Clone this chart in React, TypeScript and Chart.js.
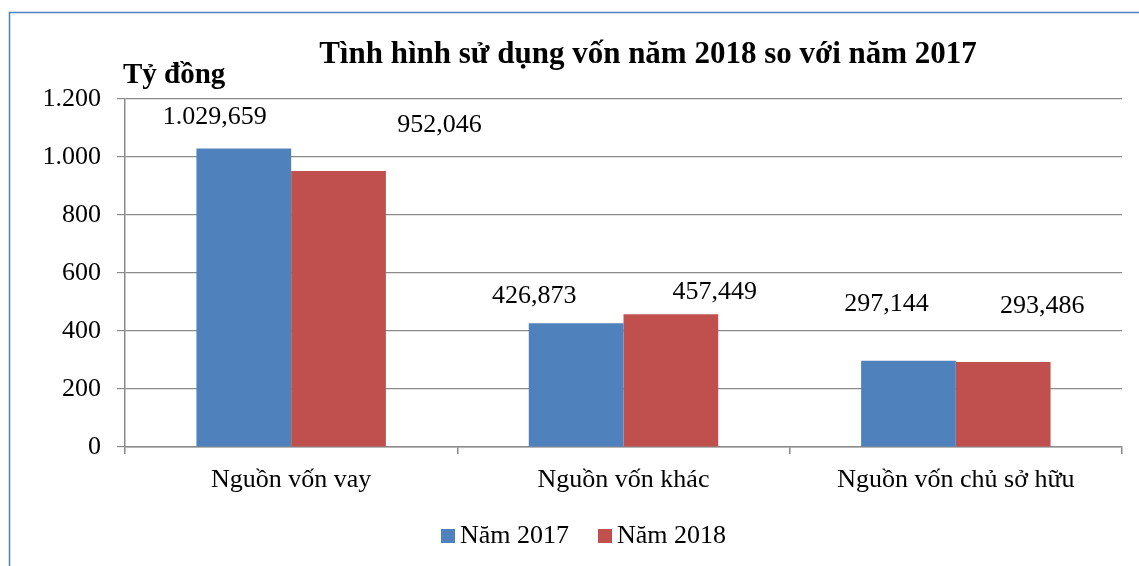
import React, { useEffect, useRef } from "react";
import { Chart, registerables } from "chart.js";

Chart.register(...registerables);

const categories = ["Nguồn vốn vay", "Nguồn vốn khác", "Nguồn vốn chủ sở hữu"];
const seriesNames = ["Năm 2017", "Năm 2018"];
const values2017 = [1029.659, 426.873, 297.144];
const values2018 = [952.046, 457.449, 293.486];
const yTicks = [0, 200, 400, 600, 800, 1000, 1200];
const titleText = "Tình hình sử dụng vốn năm 2018 so với năm 2017";
const unitText = "Tỷ đồng";

// label placement offsets (pixels) relative to the bar top, as in the reference
const labelDx = [
  [-29, -42, -22],
  [101, 44, 39],
];
const labelDy = [
  [-24, -20, -50],
  [-39, -15, -49],
];

const BLUE = "#4F81BD";
const RED = "#C0504D";
const GRID = "#8a8a8a";
const FONT = "'Liberation Serif', 'Times New Roman', serif";

function fmtThousands(intStr: string): string {
  return intStr.replace(/\B(?=(\d{3})+(?!\d))/g, ".");
}
function fmtValue(v: number): string {
  const [i, d] = v.toFixed(3).split(".");
  return fmtThousands(i) + "," + d;
}

export default function App() {
  const ref = useRef<HTMLCanvasElement | null>(null);

  useEffect(() => {
    document.body.style.margin = "0";
    const canvas = ref.current!;
    const W = 1139;
    const H = 566;

    const decor = {
      id: "decor",
      beforeDraw(chart: any) {
        const ctx = chart.ctx;
        ctx.save();
        ctx.fillStyle = "#ffffff";
        ctx.fillRect(0, 0, W, H);
        ctx.strokeStyle = "rgb(79,129,189)";
        ctx.lineWidth = 1.5;
        ctx.beginPath();
        ctx.moveTo(9.5, H);
        ctx.lineTo(9.5, 12.5);
        ctx.lineTo(W, 12.5);
        ctx.stroke();
        ctx.restore();
      },
      afterDraw(chart: any) {
        const ctx = chart.ctx;
        ctx.save();
        ctx.fillStyle = "#000";
        ctx.textBaseline = "alphabetic";
        // title
        ctx.font = `bold 31px ${FONT}`;
        ctx.textAlign = "center";
        ctx.fillText(titleText, 648, 63);
        // unit label
        ctx.font = `bold 29px ${FONT}`;
        ctx.textAlign = "left";
        ctx.fillText(unitText, 123, 83);
        // legend
        ctx.font = `26px ${FONT}`;
        const colors = [BLUE, RED];
        const xs = [441, 598];
        seriesNames.forEach((name, i) => {
          ctx.fillStyle = colors[i];
          ctx.fillRect(xs[i], 529, 14, 14);
          ctx.fillStyle = "#000";
          ctx.fillText(name, xs[i] + 19, 543);
        });
        // data labels
        ctx.textAlign = "center";
        chart.data.datasets.forEach((ds: any, di: number) => {
          const meta = chart.getDatasetMeta(di);
          meta.data.forEach((el: any, i: number) => {
            ctx.fillText(fmtValue(ds.data[i]), el.x + labelDx[di][i], el.y + labelDy[di][i]);
          });
        });
        ctx.restore();
      },
    };

    const chart = new Chart(canvas, {
      type: "bar",
      data: {
        labels: categories,
        datasets: [
          { label: seriesNames[0], data: values2017, backgroundColor: BLUE, borderWidth: 0 },
          { label: seriesNames[1], data: values2018, backgroundColor: RED, borderWidth: 0 },
        ],
      },
      options: {
        responsive: false,
        animation: false,
        devicePixelRatio: 1,
        layout: { padding: { left: 0, top: 99, right: 17, bottom: 49 } },
        plugins: {
          legend: { display: false },
          title: { display: false },
          tooltip: { enabled: false },
        },
        datasets: { bar: { categoryPercentage: 0.57, barPercentage: 1 } },
        scales: {
          x: {
            grid: {
              offset: true,
              drawOnChartArea: false,
              drawTicks: true,
              tickLength: 7,
              color: GRID,
              lineWidth: 1.5,
            },
            border: { color: GRID, width: 1.5 },
            ticks: {
              color: "#000",
              font: { family: FONT, size: 26 },
              padding: 11,
              maxRotation: 0,
            },
            afterFit(scale: any) {
              scale.height = 70;
            },
          },
          y: {
            min: 0,
            max: 1200,
            afterBuildTicks(scale: any) {
              scale.ticks = yTicks.map((v) => ({ value: v }));
            },
            grid: {
              color: GRID,
              lineWidth: 1.2,
              drawTicks: true,
              tickLength: 8,
            },
            border: { color: GRID, width: 1.5 },
            ticks: {
              color: "#000",
              font: { family: FONT, size: 26 },
              padding: 16,
              callback: (v: any) => fmtThousands(String(v)),
            },
            afterFit(scale: any) {
              scale.width = 125;
            },
          },
        },
      },
      plugins: [decor],
    } as any);

    return () => chart.destroy();
  }, []);

  return (
    <div style={{ position: "fixed", left: 0, top: 0, width: 1139, height: 566 }}>
      <canvas ref={ref} width={1139} height={566} style={{ width: 1139, height: 566, display: "block" }} />
    </div>
  );
}
